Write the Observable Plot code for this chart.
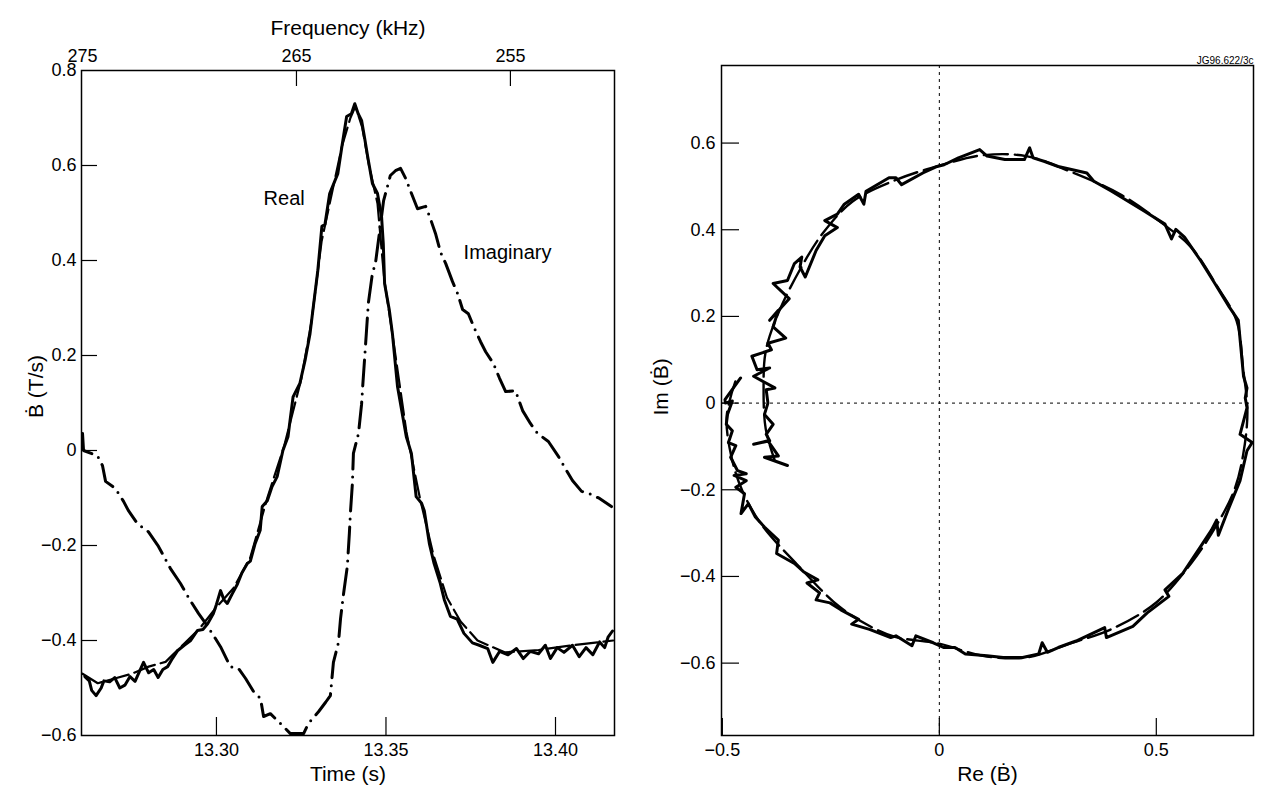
<!DOCTYPE html>
<html><head><meta charset="utf-8">
<script src="https://cdn.jsdelivr.net/npm/d3@7"></script>
<script src="https://cdn.jsdelivr.net/npm/@observablehq/plot@0.6"></script>
<style>
body{margin:0;background:#fff;}
#wrap{position:relative;width:1261px;height:795px;background:#fff;}
#left{position:absolute;left:0;top:0;}
#right{position:absolute;left:630px;top:0;}
</style></head><body><div id="wrap"><div id="left"></div><div id="right"></div></div>
<script>
// ---------- Left panel data: B-dot (T/s) vs time (s) ----------
const realT = [13.2612,13.2625,13.2632,13.2645,13.2660,13.2668,13.2685,13.2700,13.2715,13.2730,13.2745,13.2760,13.2775,13.2785,13.2800,13.2815,13.2828,13.2842,13.2856,13.2870,13.2886,13.2905,13.2924,13.2944,13.2960,13.2974,13.2991,13.3000,13.3012,13.3022,13.3032,13.3045,13.3062,13.3075,13.3091,13.3100,13.3114,13.3129,13.3135,13.3150,13.3164,13.3179,13.3196,13.3211,13.3226,13.3246,13.3262,13.3276,13.3284,13.3299,13.3311,13.3320,13.3334,13.3358,13.3370,13.3384,13.3398,13.3408,13.3418,13.3428,13.3437,13.3446,13.3460,13.3475,13.3487,13.3492,13.3496,13.3510,13.3519,13.3534,13.3560,13.3575,13.3589,13.3605,13.3613,13.3628,13.3642,13.3660,13.3672,13.3690,13.3710,13.3730,13.3755,13.3775,13.3800,13.3815,13.3835,13.3860,13.3885,13.3905,13.3925,13.3950,13.3970,13.3985,13.4005,13.4025,13.4050,13.4070,13.4090,13.4110,13.4130,13.4145,13.4155,13.4168];
const realV = [-0.476,-0.485,-0.505,-0.516,-0.500,-0.485,-0.487,-0.478,-0.500,-0.494,-0.476,-0.486,-0.462,-0.446,-0.468,-0.461,-0.478,-0.461,-0.455,-0.438,-0.421,-0.410,-0.400,-0.379,-0.377,-0.365,-0.343,-0.324,-0.295,-0.314,-0.322,-0.304,-0.281,-0.258,-0.238,-0.233,-0.196,-0.168,-0.118,-0.106,-0.076,-0.055,0.000,0.029,0.113,0.141,0.192,0.246,0.293,0.379,0.472,0.476,0.541,0.583,0.640,0.703,0.709,0.730,0.709,0.695,0.658,0.619,0.562,0.541,0.492,0.436,0.351,0.295,0.246,0.135,0.029,-0.006,-0.097,-0.111,-0.127,-0.196,-0.238,-0.279,-0.314,-0.349,-0.355,-0.385,-0.405,-0.410,-0.417,-0.446,-0.423,-0.430,-0.417,-0.438,-0.423,-0.428,-0.410,-0.438,-0.415,-0.425,-0.410,-0.434,-0.415,-0.430,-0.403,-0.415,-0.393,-0.380];

const realFitT = [13.2605,13.2650,13.2700,13.2750,13.2800,13.2850,13.2900,13.2950,13.3000,13.3050,13.3100,13.3150,13.3200,13.3250,13.3280,13.3310,13.3340,13.3370,13.3395,13.3410,13.3430,13.3450,13.3475,13.3495,13.3520,13.3560,13.3600,13.3640,13.3680,13.3720,13.3770,13.3850,13.3950,13.4050,13.4170];
const realFitV = [-0.470,-0.490,-0.480,-0.470,-0.455,-0.445,-0.410,-0.375,-0.330,-0.290,-0.225,-0.100,0.010,0.150,0.270,0.440,0.540,0.640,0.700,0.725,0.680,0.600,0.520,0.360,0.240,0.040,-0.100,-0.220,-0.310,-0.360,-0.400,-0.425,-0.420,-0.410,-0.400];

const imagT = [13.2605,13.2608,13.2649,13.2664,13.2673,13.2702,13.2726,13.2740,13.2767,13.2799,13.2829,13.2864,13.2894,13.2923,13.2947,13.2968,13.2991,13.3012,13.3041,13.3065,13.3086,13.3109,13.3130,13.3139,13.3159,13.3189,13.3218,13.3257,13.3271,13.3301,13.3322,13.3336,13.3345,13.3360,13.3366,13.3375,13.3386,13.3392,13.3395,13.3401,13.3404,13.3419,13.3428,13.3431,13.3442,13.3448,13.3460,13.3469,13.3493,13.3513,13.3528,13.3543,13.3558,13.3572,13.3593,13.3617,13.3631,13.3646,13.3661,13.3676,13.3696,13.3711,13.3726,13.3743,13.3761,13.3779,13.3794,13.3817,13.3835,13.3853,13.3882,13.3903,13.3926,13.3947,13.3979,13.4009,13.4029,13.4050,13.4077,13.4100,13.4130,13.4165];
const imagV = [0.036,0.000,-0.011,-0.032,-0.065,-0.080,-0.107,-0.126,-0.154,-0.171,-0.202,-0.248,-0.280,-0.316,-0.343,-0.364,-0.389,-0.413,-0.455,-0.459,-0.480,-0.507,-0.522,-0.560,-0.554,-0.575,-0.596,-0.596,-0.575,-0.550,-0.530,-0.516,-0.446,-0.404,-0.354,-0.301,-0.244,-0.175,-0.133,-0.069,-0.006,0.036,0.097,0.131,0.246,0.310,0.373,0.394,0.526,0.579,0.589,0.594,0.573,0.547,0.509,0.514,0.488,0.457,0.417,0.394,0.356,0.331,0.297,0.288,0.257,0.229,0.208,0.183,0.152,0.124,0.126,0.084,0.057,0.036,0.019,-0.013,-0.038,-0.063,-0.086,-0.091,-0.101,-0.118];

const timeTicks = [13.30, 13.35, 13.40];
const yTicksLeft = [-0.6, -0.4, -0.2, 0, 0.2, 0.4, 0.6, 0.8];
const freqLabels = [275, 265, 255];
const freqTickTimes = [13.2605, 13.3236, 13.3867];

// ---------- Right panel data: Im(B-dot) vs Re(B-dot) ----------
const nyqRe = [-0.458,-0.494,-0.493,-0.477,-0.488,-0.491,-0.477,-0.486,-0.469,-0.481,-0.465,-0.445,-0.473,-0.445,-0.469,-0.449,-0.457,-0.440,-0.424,-0.403,-0.371,-0.375,-0.334,-0.313,-0.280,-0.305,-0.276,-0.284,-0.252,-0.227,-0.186,-0.202,-0.161,-0.112,-0.100,-0.063,-0.054,-0.014,0.011,0.036,0.060,0.110,0.147,0.192,0.229,0.237,0.249,0.274,0.315,0.381,0.385,0.446,0.479,0.529,0.520,0.561,0.602,0.627,0.639,0.643,0.668,0.693,0.709,0.721,0.693,0.709,0.705,0.709,0.701,0.689,0.668,0.635,0.602,0.565,0.545,0.535,0.520,0.471,0.397,0.356,0.340,0.274,0.241,0.216,0.208,0.196,0.151,0.110,0.093,0.044,0.011,-0.005,-0.038,-0.087,-0.100,-0.116,-0.169,-0.174,-0.186,-0.219,-0.235,-0.264,-0.235,-0.264,-0.284,-0.309,-0.321,-0.317,-0.334,-0.350,-0.383,-0.346,-0.391,-0.371,-0.383,-0.354,-0.395,-0.387,-0.432,-0.420,-0.391,-0.428,-0.379,-0.399,-0.395,-0.403,-0.383,-0.399,-0.391,-0.428,-0.395,-0.371,-0.403,-0.350];
const nyqIm = [0.058,0.008,0.000,0.005,-0.026,-0.049,-0.064,-0.091,-0.098,-0.125,-0.156,-0.163,-0.167,-0.179,-0.194,-0.209,-0.255,-0.232,-0.263,-0.286,-0.316,-0.347,-0.370,-0.389,-0.408,-0.415,-0.438,-0.454,-0.461,-0.477,-0.499,-0.510,-0.522,-0.541,-0.537,-0.560,-0.537,-0.553,-0.564,-0.564,-0.579,-0.583,-0.587,-0.587,-0.579,-0.553,-0.575,-0.564,-0.549,-0.518,-0.541,-0.515,-0.484,-0.446,-0.431,-0.393,-0.331,-0.293,-0.270,-0.305,-0.240,-0.179,-0.110,-0.091,-0.072,-0.011,0.012,0.035,0.062,0.191,0.222,0.276,0.329,0.383,0.401,0.379,0.413,0.444,0.489,0.512,0.531,0.546,0.558,0.566,0.589,0.562,0.562,0.570,0.585,0.566,0.550,0.546,0.531,0.504,0.520,0.520,0.489,0.459,0.482,0.459,0.436,0.421,0.405,0.386,0.352,0.291,0.314,0.337,0.322,0.283,0.276,0.241,0.191,0.214,0.176,0.150,0.138,0.123,0.108,0.077,0.081,0.062,0.035,0.031,0.000,-0.026,-0.049,-0.072,-0.087,-0.095,-0.087,-0.122,-0.125,-0.144];

const fitRe = [-0.470,-0.490,-0.480,-0.455,-0.410,-0.330,-0.230,-0.150,-0.100,0.000,0.100,0.200,0.300,0.400,0.500,0.580,0.640,0.680,0.700,0.710,0.700,0.685,0.640,0.580,0.520,0.420,0.300,0.200,0.100,0.000,-0.100,-0.200,-0.270,-0.320,-0.370,-0.400,-0.405,-0.400,-0.380];
const fitIm = [0.050,-0.030,-0.120,-0.200,-0.280,-0.370,-0.470,-0.520,-0.540,-0.555,-0.583,-0.587,-0.555,-0.520,-0.460,-0.370,-0.280,-0.200,-0.120,-0.020,0.080,0.190,0.270,0.360,0.410,0.480,0.535,0.570,0.572,0.548,0.515,0.465,0.390,0.310,0.210,0.120,0.030,-0.060,-0.130];

const reTicks = [-0.5, 0, 0.5];
const imTicks = [-0.6, -0.4, -0.2, 0, 0.2, 0.4, 0.6];

const FONT = "Liberation Sans, Arial, Helvetica, sans-serif";
const style = {fontFamily: FONT, fontSize: "18px", color: "#000", background: "#fff", overflow: "visible"};
const fmt1 = d => d === 0 ? "0" : d3.format(".1f")(d);

// ---------- Left panel ----------
const L = {w: 630, h: 795, ml: 81, mr: 16, mt: 70, mb: 60};
const Lfw = L.w - L.ml - L.mr, Lfh = L.h - L.mt - L.mb;
const left = Plot.plot({
  width: L.w, height: L.h,
  marginLeft: L.ml, marginRight: L.mr, marginTop: L.mt, marginBottom: L.mb,
  style,
  x: {domain: [13.2602, 13.4174]},
  y: {domain: [-0.6, 0.8]},
  marks: [
    Plot.axisX(timeTicks, {anchor: "bottom", tickSize: 0, tickPadding: 8, tickFormat: d3.format(".2f"), label: null, fontSize: 18}),
    Plot.axisX(freqTickTimes, {anchor: "top", tickSize: 0, tickPadding: 9, tickFormat: d => String(freqLabels[freqTickTimes.indexOf(d)]), label: null, fontSize: 18}),
    Plot.axisY(yTicksLeft, {anchor: "left", tickSize: 0, tickPadding: 5, tickFormat: fmt1, label: null, fontSize: 18}),
    Plot.tickY(yTicksLeft.slice(1, -1), {y: d => d, insetRight: Lfw - 16, stroke: "#000", strokeWidth: 1.2}),
    Plot.tickX(timeTicks, {x: d => d, insetTop: Lfh - 18, stroke: "#000", strokeWidth: 1.2}),
    Plot.tickX(freqTickTimes.slice(1), {x: d => d, insetBottom: Lfh - 16, stroke: "#000", strokeWidth: 1.2}),
    Plot.line(realFitT, {x: realFitT, y: realFitV, stroke: "#000", strokeWidth: 2.2, strokeDasharray: "22,6"}),
    Plot.line(realT, {x: realT, y: realV, stroke: "#000", strokeWidth: 3, strokeLinejoin: "round"}),
    Plot.line(imagT, {x: imagT, y: imagV, stroke: "#000", strokeWidth: 3, strokeLinecap: "round", strokeLinejoin: "round", strokeDasharray: "26,8,0,8"}),
    Plot.text(["Real"], {x: 13.3139, y: 0.53, textAnchor: "start", fontSize: 20}),
    Plot.text(["Imaginary"], {x: 13.3729, y: 0.417, textAnchor: "start", fontSize: 20}),
    Plot.text(["Time (s)"], {frameAnchor: "bottom", dy: 45, fontSize: 21}),
    Plot.text(["Frequency (kHz)"], {frameAnchor: "top", dy: -50, fontSize: 21}),
    Plot.text(["Ḃ (T/s)"], {frameAnchor: "left", dx: -45, dy: 15, rotate: -90, fontSize: 21}),
    Plot.frame({stroke: "#000", strokeWidth: 1.5})
  ]
});
document.getElementById("left").appendChild(left);

// ---------- Right panel ----------
const R = {w: 631, h: 795, ml: 91, mr: 8, mt: 65, mb: 60};
const Rfw = R.w - R.ml - R.mr, Rfh = R.h - R.mt - R.mb;
const right = Plot.plot({
  width: R.w, height: R.h,
  marginLeft: R.ml, marginRight: R.mr, marginTop: R.mt, marginBottom: R.mb,
  style,
  x: {domain: [-0.502, 0.724]},
  y: {domain: [-0.767, 0.779]},
  marks: [
    Plot.axisX(reTicks, {anchor: "bottom", tickSize: 0, tickPadding: 8, tickFormat: fmt1, label: null, fontSize: 18}),
    Plot.axisY(imTicks, {anchor: "left", tickSize: 0, tickPadding: 6, tickFormat: fmt1, label: null, fontSize: 18}),
    Plot.tickY(imTicks, {y: d => d, insetRight: Rfw - 18, stroke: "#000", strokeWidth: 1.2}),
    Plot.tickX(reTicks, {x: d => d, insetTop: Rfh - 17, stroke: "#000", strokeWidth: 1.2}),
    Plot.ruleX([0], {stroke: "#000", strokeWidth: 1, strokeDasharray: "3,4"}),
    Plot.ruleY([0], {stroke: "#000", strokeWidth: 1, strokeDasharray: "3,4"}),
    Plot.line(fitRe, {x: fitRe, y: fitIm, stroke: "#000", strokeWidth: 2.4, strokeDasharray: "24,7", curve: "catmull-rom"}),
    Plot.line(nyqRe, {x: nyqRe, y: nyqIm, stroke: "#000", strokeWidth: 3, strokeLinejoin: "round", strokeLinecap: "round"}),
    Plot.text(["Re (Ḃ)"], {frameAnchor: "bottom", dy: 45, fontSize: 21}),
    Plot.text(["Im (Ḃ)"], {frameAnchor: "left", dx: -60, dy: 15, rotate: -90, fontSize: 21}),
    Plot.text(["JG96.622/3c"], {frameAnchor: "top-right", dy: -9, textAnchor: "end", fontSize: 10}),
    Plot.frame({stroke: "#000", strokeWidth: 1.5})
  ]
});
document.getElementById("right").appendChild(right);
</script>
</body></html>
